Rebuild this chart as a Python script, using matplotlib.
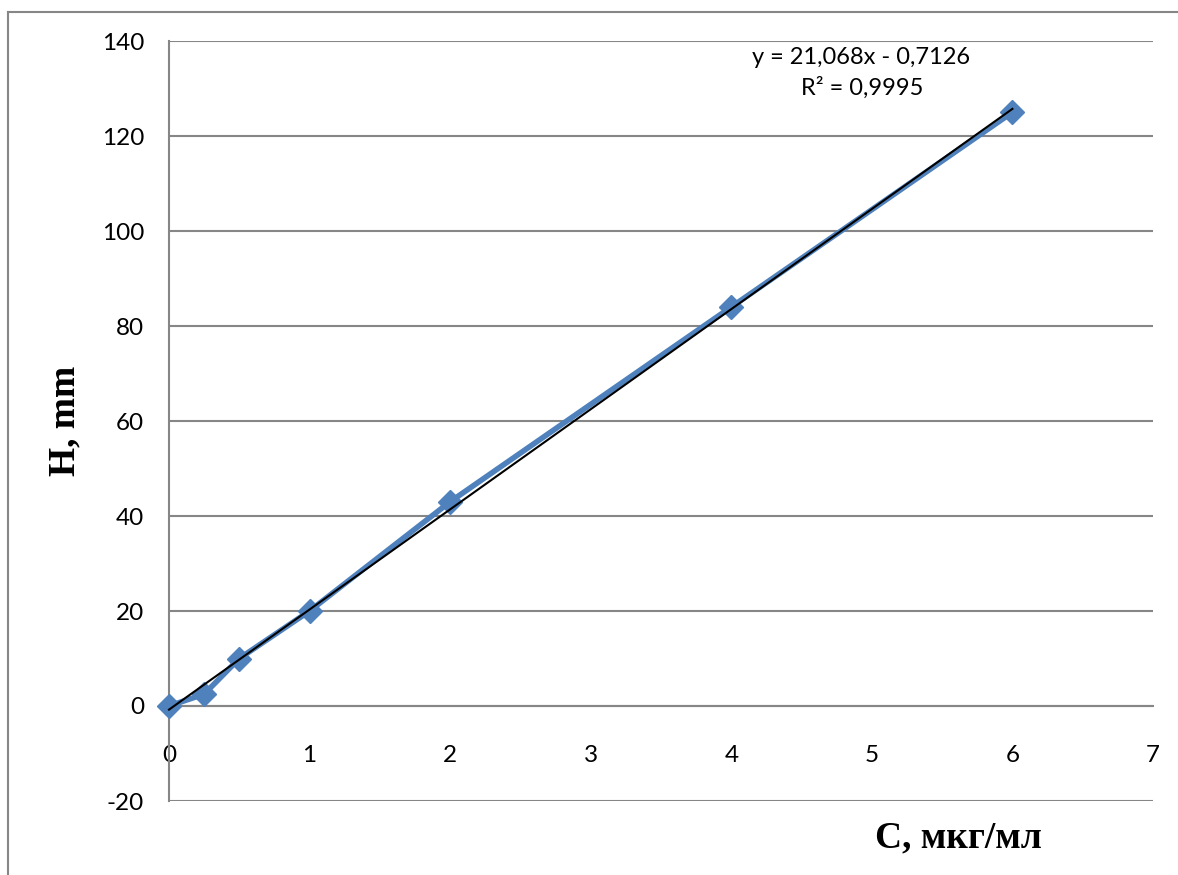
import numpy as np
import matplotlib.pyplot as plt
from matplotlib.lines import Line2D

plt.rcParams['axes.unicode_minus'] = False

# calibration data
conc = [0, 0.25, 0.5, 1, 2, 4, 6]
height = [0, 2.5, 10, 20, 43, 84, 125]
y_ticks = [-20, 0, 20, 40, 60, 80, 100, 120, 140]
x_ticks = [0, 1, 2, 3, 4, 5, 6, 7]
eq_text = "y = 21,068x - 0,7126"
r2_text = "R² = 0,9995"

W, H = 1178, 875
fig = plt.figure(figsize=(W / 100, H / 100), dpi=100)
ax = fig.add_axes([169 / W, 1 - 801 / H, (1153 - 169) / W, (801 - 41) / H])

grid_col = '#868686'
ax.set_xlim(0, 7)
ax.set_ylim(-20, 140)
ax.set_yticks(y_ticks)
ax.set_xticks(x_ticks)
ax.grid(axis='y', color=grid_col, lw=1.5)
ax.set_axisbelow(True)

for s in ['top', 'right']:
    ax.spines[s].set_visible(False)
ax.spines['left'].set_color(grid_col)
ax.spines['left'].set_linewidth(1.5)
ax.spines['bottom'].set_position(('data', 0))
ax.spines['bottom'].set_color(grid_col)
ax.spines['bottom'].set_linewidth(1.5)
ax.tick_params(axis='y', length=0, pad=18, labelsize=17.5)
ax.tick_params(axis='x', length=0, pad=28, labelsize=17.5)
for lab in ax.get_xticklabels() + ax.get_yticklabels():
    lab.set_family('Lato')

ax.plot(conc, height, color='#4F81BD', lw=4, marker='D', ms=12,
        solid_joinstyle='round', zorder=3, clip_on=False)

# linear trendline
k, b = np.polyfit(conc, height, 1)
xs = np.array([conc[0], conc[-1]])
ax.plot(xs, k * xs + b, color='black', lw=1.5, zorder=4, clip_on=False)

fig.text(861 / W, 1 - 58 / H, eq_text, ha='center', va='center',
         fontsize=17, family='Lato')
fig.text(862 / W, 1 - 88 / H, r2_text, ha='center', va='center',
         fontsize=17, family='Lato')

fig.text(65 / W, 1 - 421 / H, "H, mm", rotation=90, ha='center', va='center',
         fontsize=27, fontweight='bold', family='Liberation Serif')
fig.text(958 / W, 1 - 838 / H, "C, мкг/мл", ha='center', va='center',
         fontsize=27, fontweight='bold', family='Liberation Serif')

# outer chart frame (cut off at right and bottom)
fig.add_artist(Line2D([8 / W, 8 / W], [0, 1 - 12 / H], transform=fig.transFigure,
                      color=grid_col, lw=1.5))
fig.add_artist(Line2D([8 / W, 1], [1 - 12 / H, 1 - 12 / H], transform=fig.transFigure,
                      color=grid_col, lw=1.5))

fig.savefig('out.png', dpi=100)
